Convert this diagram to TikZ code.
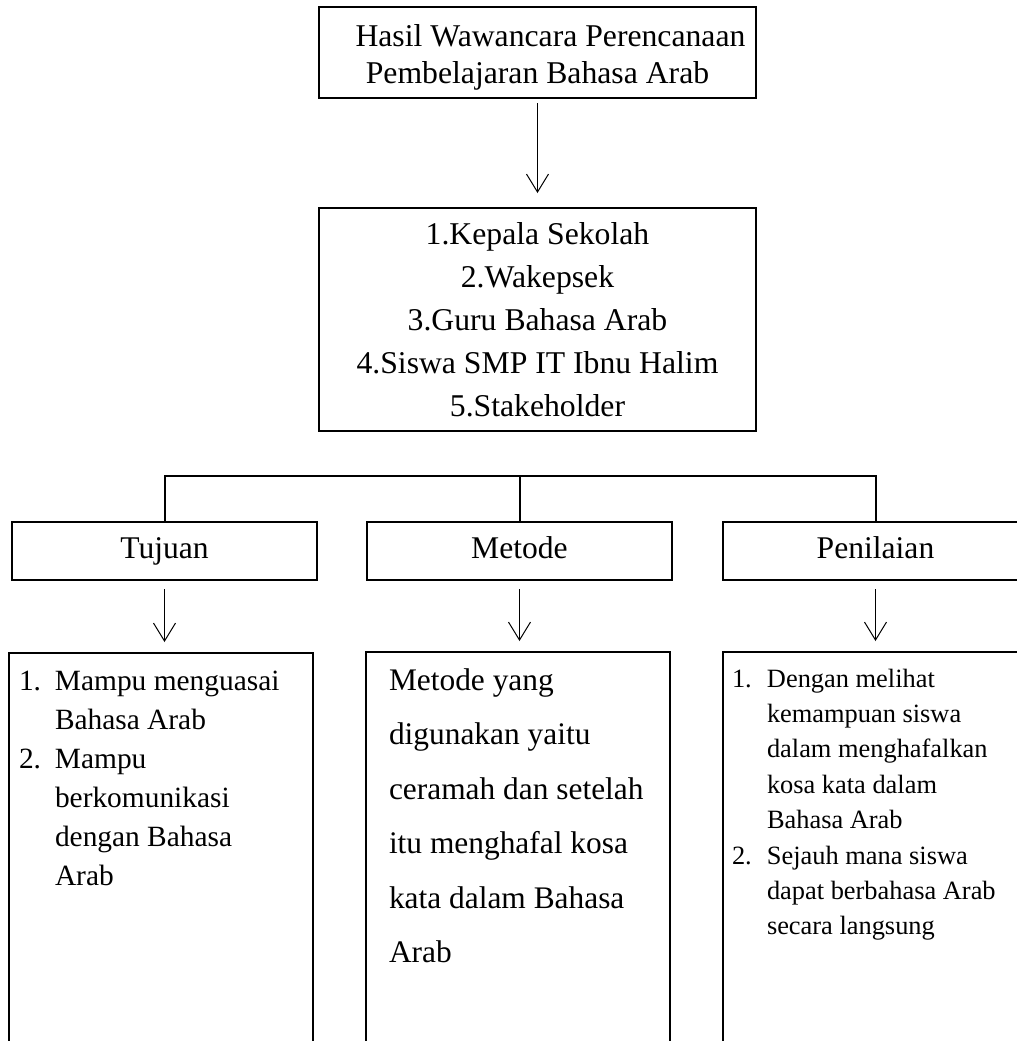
\documentclass[tikz,border=0pt]{standalone}
\usepackage{fontspec}
\setmainfont{Liberation Serif}
\usetikzlibrary{arrows.meta, positioning}

\begin{document}
\begin{tikzpicture}[x=0.5pt, y=-0.5pt, line width=1pt,
        box/.style={draw, inner sep=0pt, align=center},
        headbox/.style={box, minimum width=218.5pt},
        catbox/.style={box, minimum width=152.5pt, minimum height=29pt,
            text height=11pt, text depth=3.5pt, font=\fontsize{15.8}{19}\selectfont},
        listbox/.style={draw, inner sep=0pt, minimum width=152pt, minimum height=250pt, anchor=north},
        listtext/.style={anchor=base west, inner sep=0pt},
        arrowline/.style={line width=0.5pt, -{Straight Barb[length=9pt, width=11pt]}}]
        \useasboundingbox (0,0) rectangle (1017,1041);
        \fill[white] (0,0) rectangle (1017,1041);
        \clip (0,0) rectangle (1017,1041);

        % Judul
        \node[headbox, minimum height=45.5pt, text height=34.25pt,
            font=\fontsize{15.85}{18.3}\selectfont] (hasil) at (537.5,52.5)
            {\hspace*{13pt}Hasil Wawancara Perencanaan\\Pembelajaran Bahasa Arab};

        % Narasumber
        \node[headbox, minimum height=111.5pt, font=\fontsize{15.85}{21.5}\selectfont]
            (narasumber) at (537.5,319.5)
            {1.Kepala Sekolah\\2.Wakepsek\\3.Guru Bahasa Arab\\4.Siswa SMP IT Ibnu Halim\\5.Stakeholder};
        \draw[arrowline, shorten <=2pt, shorten >=7pt] (hasil.south) -- (narasumber.north);

        % Kategori
        \node[catbox] (tujuan) at (164.5,551) {Tujuan};
        \node[catbox] (metode) at (519.5,551) {Metode};
        \node[catbox] (penilaian) at (875.5,551) {Penilaian};
        \coordinate (Bar) at (0,476);
        \draw (tujuan.north) -- (tujuan.north |- Bar) -- (penilaian.north |- Bar) -- (penilaian.north);
        \draw (metode.north) -- (metode.north |- Bar);

        % Isi (bagian bawah terpotong)
        \node[listbox] (tujuanIsi) at (161,652) {};
        \node[listbox] (metodeIsi) at (517.5,651) {};
        \node[listbox] (penilaianIsi) at (875,651) {};
        \draw[arrowline, shorten <=4pt, shorten >=5pt] (tujuan.south) -- (tujuan.south |- tujuanIsi.north);
        \draw[arrowline, shorten <=4pt, shorten >=5pt] (metode.south) -- (metode.south |- metodeIsi.north);
        \draw[arrowline, shorten <=4pt, shorten >=5pt] (penilaian.south) -- (penilaian.south |- penilaianIsi.north);

        \node[listtext, font=\fontsize{14.7}{19.5}\selectfont] (tujuanTeks) at (18,690)
            {\begin{tabular}[t]{@{}l@{}l@{}}
                \makebox[18pt][l]{1.} & Mampu menguasai\\
                & Bahasa Arab\\
                \makebox[18pt][l]{2.} & Mampu\\
                & berkomunikasi\\
                & dengan Bahasa\\
                & Arab
            \end{tabular}};
        \node[listtext, font=\fontsize{15.7}{27.25}\selectfont] (metodeTeks) at (388,690)
            {\begin{tabular}[t]{@{}l@{}}
                Metode yang\\
                digunakan yaitu\\
                ceramah dan setelah\\
                itu menghafal kosa\\
                kata dalam Bahasa\\
                Arab
            \end{tabular}};
        \node[listtext, font=\fontsize{13.2}{17.7}\selectfont] (penilaianTeks) at (731,687)
            {\begin{tabular}[t]{@{}l@{}l@{}}
                \makebox[17.5pt][l]{1.} & Dengan melihat\\
                & kemampuan siswa\\
                & dalam menghafalkan\\
                & kosa kata dalam\\
                & Bahasa Arab\\
                \makebox[17.5pt][l]{2.} & Sejauh mana siswa\\
                & dapat berbahasa Arab\\
                & secara langsung
            \end{tabular}};

\end{tikzpicture}
\end{document}
